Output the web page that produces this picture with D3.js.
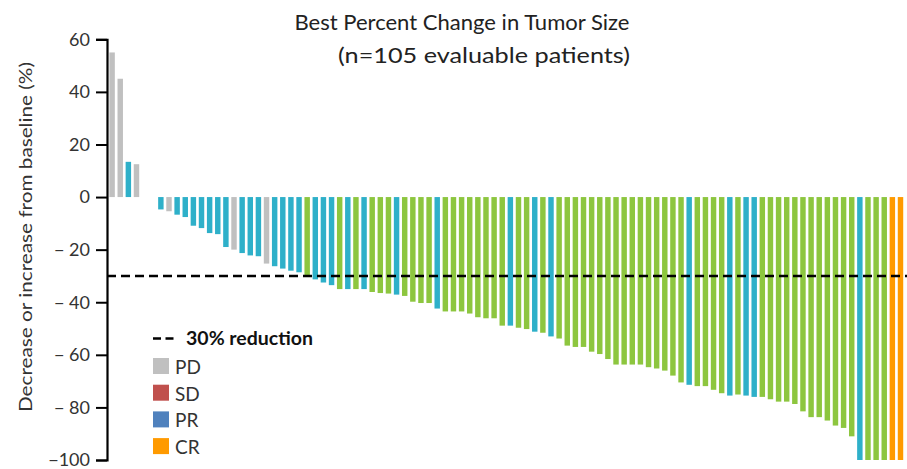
<!DOCTYPE html>
<html>
<head>
<meta charset="utf-8">
<script src="https://cdn.jsdelivr.net/npm/d3@7"></script>
<style>
  body { margin: 0; background: #fff; }
  svg { display: block; font-family: Lato, "Open Sans", sans-serif; }
</style>
</head>
<body>
<div id="chart"></div>
<script>
// best % change per patient, in plotted order (0 = empty slot)
var changes = [
    55, 45, 13.4, 12.5, 0, 0,
    -4.7, -5.4, -6.7, -7.6, -10.9, -11.8, -13.7, -14.1, -19.0, -20.0,
    -21.3, -22.2, -22.5, -25.3, -26.3, -27.2, -28.0, -28.6, -29.9, -31.3,
    -32.5, -33.5, -35.0, -35.0, -35.0, -35.0, -36.1, -36.5, -36.7, -37.1,
    -37.6, -39.8, -40.3, -40.3, -42.4, -43.5, -43.5, -43.5, -44.3, -45.7,
    -46.1, -46.1, -48.9, -48.9, -49.7, -50.2, -51.2, -51.6, -53.0, -53.8,
    -56.5, -57.0, -57.0, -58.8, -59.7, -61.6, -63.7, -63.7, -63.7, -63.7,
    -64.7, -65.2, -66.0, -67.9, -70.5, -71.4, -71.9, -71.9, -73.3, -74.6,
    -75.5, -75.1, -75.5, -76.0, -76.0, -76.9, -77.8, -77.8, -78.7, -81.5,
    -83.7, -83.7, -85.0, -86.9, -87.8, -91.0, -100, -100, -100, -100,
    -100, -100
];
// response group of each bar (g = grey, t = teal, v = green, o = orange)
var groups = [
    'g', 'g', 't', 'g', 'g', 'g',
    't', 'g', 't', 't', 't', 't', 't', 't', 't', 'g',
    't', 't', 't', 'g', 't', 't', 't', 't', 'v', 't',
    't', 't', 'v', 't', 'v', 't', 'v', 'v', 'v', 't',
    'v', 'v', 'v', 'v', 't', 'v', 'v', 'v', 'v', 'v',
    'v', 'v', 'v', 't', 'v', 'v', 't', 'v', 't', 'v',
    'v', 'v', 'v', 'v', 'v', 'v', 'v', 'v', 'v', 'v',
    'v', 'v', 'v', 'v', 'v', 't', 'v', 'v', 'v', 'v',
    't', 'v', 't', 't', 'v', 'v', 'v', 'v', 'v', 'v',
    'v', 'v', 'v', 'v', 'v', 'v', 't', 'v', 'v', 'v',
    'o', 'o'
];
var groupColors = { g: '#c0c0c0', t: '#2eb0c9', v: '#8dc63f', o: '#ff9a00' };

var yTicks = [60, 40, 20, 0, -20, -40, -60, -80, -100];
var yTickLabels = ['60', '40', '20', '0', '\u2212 20', '\u2212 40', '\u2212 60', '\u2212 80', '\u2212100'];

var legendNames = ['PD', 'SD', 'PR', 'CR'];
var legendColors = ['#c0c0c0', '#c0504d', '#4f81bd', '#ff9a00'];
var threshold = -30;

var W = 907, H = 469;

var svg = d3.select('#chart').append('svg')
    .attr('width', W)
    .attr('height', H);

var x = d3.scaleBand()
    .domain(d3.range(changes.length))
    .range([108, 904.6])
    .paddingInner(0.33)
    .paddingOuter(0.17);

var y = d3.scaleLinear()
    .domain([-100, 60])
    .range([460, 39.3]);

// bars
svg.append('g').selectAll('rect')
    .data(changes)
    .enter().append('rect')
    .attr('x', function (d, i) { return x(i); })
    .attr('width', x.bandwidth())
    .attr('y', function (d) { return d > 0 ? y(d) : y(0); })
    .attr('height', function (d) { return Math.abs(y(d) - y(0)); })
    .style('fill', function (d, i) { return groupColors[groups[i]]; });

// 30% reduction line
svg.append('line')
    .attr('x1', 107).attr('x2', W)
    .attr('y1', y(threshold)).attr('y2', y(threshold))
    .style('stroke', '#000')
    .style('stroke-width', 2.5)
    .style('stroke-dasharray', '9,5');

// y axis
var yAxis = d3.axisLeft(y)
    .tickValues(yTicks)
    .tickSize(11)
    .tickPadding(6)
    .tickFormat(function (d, i) { return yTickLabels[i]; });

var ag = svg.append('g')
    .attr('transform', 'translate(107,0)')
    .call(yAxis);
ag.select('.domain').style('stroke', '#000').style('stroke-width', 2.2);
ag.selectAll('.tick line').style('stroke', '#000').style('stroke-width', 2);
ag.selectAll('.tick text')
    .style('font-size', '18px')
    .style('fill', '#333')
    .style('font-family', 'Lato, sans-serif');

svg.append('text')
    .attr('transform', 'translate(32,237) rotate(-90)')
    .attr('text-anchor', 'middle')
    .attr('textLength', 350)
    .attr('lengthAdjust', 'spacingAndGlyphs')
    .style('font-size', '18px')
    .style('fill', '#333')
    .text('Decrease or increase from baseline (%)');

// title
svg.append('text')
    .attr('x', 462).attr('y', 30)
    .attr('text-anchor', 'middle')
    .attr('textLength', 335)
    .attr('lengthAdjust', 'spacingAndGlyphs')
    .style('font-size', '22px')
    .style('fill', '#222')
    .text('Best Percent Change in Tumor Size');
svg.append('text')
    .attr('x', 484).attr('y', 63)
    .attr('text-anchor', 'middle')
    .attr('textLength', 292)
    .attr('lengthAdjust', 'spacingAndGlyphs')
    .style('font-size', '22px')
    .style('fill', '#222')
    .text('(n=105 evaluable patients)');

// legend
var lg = svg.append('g');
lg.append('line')
    .attr('x1', 153).attr('x2', 173.5)
    .attr('y1', 338.5).attr('y2', 338.5)
    .style('stroke', '#000')
    .style('stroke-width', 2.5)
    .style('stroke-dasharray', '8,4.5');
lg.append('text')
    .attr('x', 186).attr('y', 345)
    .attr('textLength', 127)
    .attr('lengthAdjust', 'spacingAndGlyphs')
    .style('font-size', '18.5px')
    .style('font-weight', 'bold')
    .style('fill', '#111')
    .text('30% reduction');

var items = lg.selectAll('g.item')
    .data(legendNames)
    .enter().append('g')
    .attr('class', 'item')
    .attr('transform', function (d, i) { return 'translate(153,' + (358 + i * 26.7) + ')'; });
items.append('rect')
    .attr('width', 16).attr('height', 16)
    .style('fill', function (d, i) { return legendColors[i]; });
items.append('text')
    .attr('x', 22).attr('y', 16)
    .style('font-size', '19px')
    .style('fill', '#333')
    .text(function (d) { return d; });
</script>
</body>
</html>
